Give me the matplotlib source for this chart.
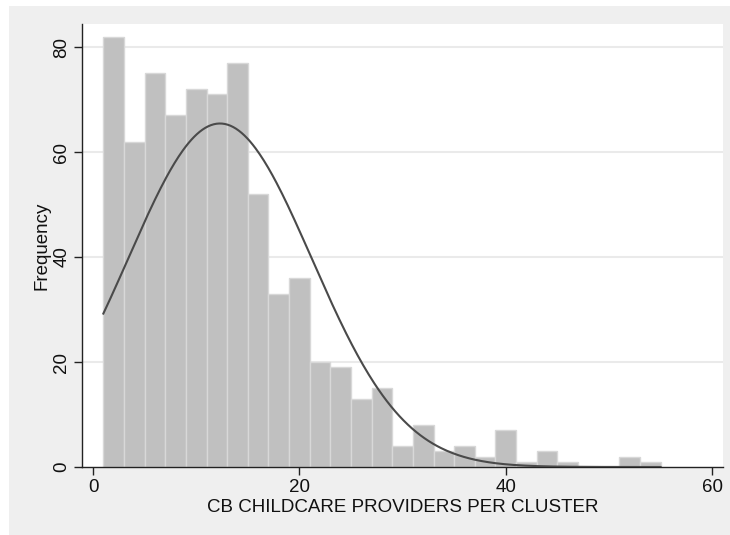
import numpy as np
import matplotlib
matplotlib.use("Agg")
import matplotlib.pyplot as plt
from matplotlib.patches import Rectangle

# histogram bins (width 2, starting at 1) and counts
bin_start = 1
bin_width = 2
counts = [82, 62, 75, 67, 72, 71, 77, 52, 33, 36, 20, 19, 13, 15,
          4, 8, 3, 4, 2, 7, 1, 3, 1, 0, 0, 2, 1]

# fitted normal curve parameters
mu = 12.3
sigma = 8.9
n_obs = sum(counts)

x_ticks = [0, 20, 40, 60]
y_ticks = [0, 20, 40, 60, 80]

plt.rcParams['font.family'] = ['Liberation Sans', 'DejaVu Sans']

fig = plt.figure(figsize=(7.3, 5.35), dpi=100)
fig.patch.set_facecolor("white")
fig.add_artist(Rectangle((9 / 730, 0), 1, 1 - 6 / 535, transform=fig.transFigure,
                         facecolor="#efefef", edgecolor="none", zorder=-10))

ax = fig.add_axes([82 / 730, 1 - 467 / 535, (723 - 82) / 730, (467 - 24) / 535])
ax.set_zorder(1)
ax.set_facecolor("white")

edges = bin_start + bin_width * np.arange(len(counts))
ax.bar(edges, counts, width=bin_width, align="edge", color="#c0c0c0",
       edgecolor="#d8d8d8", linewidth=1.0, zorder=2)

xs = np.linspace(bin_start, bin_start + bin_width * len(counts), 400)
ys = n_obs * bin_width / (sigma * np.sqrt(2 * np.pi)) * np.exp(-(xs - mu) ** 2 / (2 * sigma ** 2))
ax.plot(xs, ys, color="#4a4a4a", linewidth=1.5, zorder=3)

ax.set_xlim(-1.07, 61.05)
ax.set_ylim(0, 84.4)
ax.set_xticks(x_ticks)
ax.set_yticks(y_ticks)
ax.set_yticklabels([str(v) for v in y_ticks], rotation=90, va="center")

for v in y_ticks[1:]:
    ax.axhline(v, color="#eaeaea", linewidth=1.5, zorder=1)

for s in ["top", "right"]:
    ax.spines[s].set_visible(False)
for s in ["left", "bottom"]:
    ax.spines[s].set_color("#222222")
    ax.spines[s].set_linewidth(1.0)

ax.tick_params(axis="both", direction="out", length=5.5, width=1, color="#222222",
               labelsize=13.5, labelcolor="#111111", pad=3)

ax.set_xlabel("CB CHILDCARE PROVIDERS PER CLUSTER", fontsize=13.5, labelpad=2, color="#111111")
ax.set_ylabel("Frequency", fontsize=13.5, labelpad=2, color="#111111")

fig.savefig("out.png", dpi=100, facecolor=fig.get_facecolor())
